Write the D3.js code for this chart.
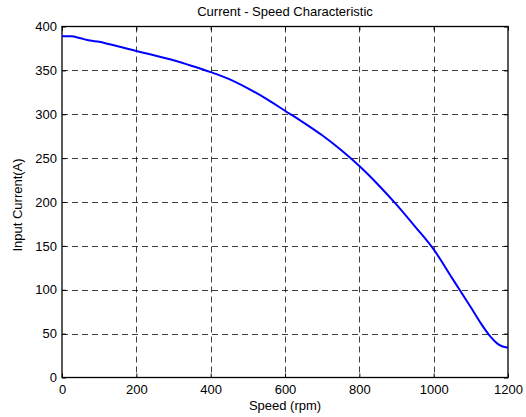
<!DOCTYPE html>
<html>
<head>
<meta charset="utf-8">
<script src="https://cdn.jsdelivr.net/npm/d3@7"></script>
<style>
  html, body { margin: 0; padding: 0; background: #fff; }
  svg { display: block; }
  text { font-family: "Liberation Sans", Arial, sans-serif; fill: #000; }
</style>
</head>
<body>
<svg id="chart" width="526" height="417"></svg>
<script>
// Motor speed (rpm) and measured input current (A)
const speed = [0, 25, 50, 75, 100, 125, 150, 200, 250, 300, 350, 400, 450, 500, 550,
               600, 650, 700, 750, 800, 850, 900, 950, 1000, 1050, 1100, 1125, 1150, 1175, 1200];
const current = [389, 389, 386.5, 384, 382.5, 380, 377.5, 372, 367, 361.5, 355, 348, 340, 329.5, 317.5,
                 304, 290.5, 276, 259.5, 241, 220, 197, 172, 146, 113, 80, 63, 48, 37.5, 34];

const xTicks = [0, 200, 400, 600, 800, 1000, 1200];
const yTicks = [0, 50, 100, 150, 200, 250, 300, 350, 400];

const titleText = "Current - Speed Characteristic";
const xLabel = "Speed (rpm)";
const yLabel = "Input Current(A)";

const svg = d3.select("#chart");
const m = { left: 62, right: 18, top: 26.5, bottom: 39.5 };
const W = 526, H = 417;
const x = d3.scaleLinear().domain([0, 1200]).range([m.left, W - m.right]);
const y = d3.scaleLinear().domain([0, 400]).range([H - m.bottom, m.top]);

const x0 = x(0), x1 = x(1200), y0 = y(0), y1 = y(400);
const fs = 13;

// dashed grid
const grid = svg.append("g");
grid.selectAll("line.vx").data(xTicks.slice(1, -1)).join("line")
  .attr("x1", d => Math.round(x(d)) + 0.5).attr("x2", d => Math.round(x(d)) + 0.5)
  .attr("y1", y1).attr("y2", y0)
  .attr("stroke", "#000").attr("stroke-width", 1).attr("stroke-dasharray", "6,4").attr("opacity", 0.75);
grid.selectAll("line.hy").data(yTicks.slice(1, -1)).join("line")
  .attr("y1", d => Math.round(y(d)) + 0.5).attr("y2", d => Math.round(y(d)) + 0.5)
  .attr("x1", x0).attr("x2", x1)
  .attr("stroke", "#000").attr("stroke-width", 1).attr("stroke-dasharray", "6,4").attr("opacity", 0.75);

// axes with inward ticks
const fmt = d3.format("d");
const ax = svg.append("g").attr("transform", `translate(0,${y0})`)
  .call(d3.axisBottom(x).tickValues(xTicks).tickFormat(fmt).tickSizeInner(-4).tickSizeOuter(0).tickPadding(7));
const ay = svg.append("g").attr("transform", `translate(${x0},0)`)
  .call(d3.axisLeft(y).tickValues(yTicks).tickFormat(fmt).tickSizeInner(-4).tickSizeOuter(0).tickPadding(5));
const axTop = svg.append("g").attr("transform", `translate(0,${y1})`)
  .call(d3.axisTop(x).tickValues(xTicks).tickSizeInner(-4).tickSizeOuter(0).tickFormat(""));
const ayRight = svg.append("g").attr("transform", `translate(${x1},0)`)
  .call(d3.axisRight(y).tickValues(yTicks).tickSizeInner(-4).tickSizeOuter(0).tickFormat(""));
[ax, ay, axTop, ayRight].forEach(g => {
  g.select(".domain").remove();
  g.selectAll("line").attr("stroke", "#000");
  g.selectAll("text").attr("font-size", fs).attr("font-family", "Liberation Sans, Arial, sans-serif");
});

// frame
svg.append("rect").attr("x", x0).attr("y", y1).attr("width", x1 - x0).attr("height", y0 - y1)
  .attr("fill", "none").attr("stroke", "#000").attr("stroke-width", 1.3);

// curve
const pts = speed.map((s, i) => [s, current[i]]);
svg.append("path").datum(pts)
  .attr("fill", "none").attr("stroke", "#0000ff").attr("stroke-width", 2)
  .attr("d", d3.line().x(d => x(d[0])).y(d => y(d[1])).curve(d3.curveMonotoneX));

// labels
svg.append("text").attr("x", (x0 + x1) / 2).attr("y", 16).attr("text-anchor", "middle")
  .attr("font-size", fs).text(titleText);
svg.append("text").attr("x", (x0 + x1) / 2).attr("y", 410).attr("text-anchor", "middle")
  .attr("font-size", fs).text(xLabel);
svg.append("text").attr("transform", `translate(22,${(y0 + y1) / 2 + 3}) rotate(-90)`)
  .attr("text-anchor", "middle").attr("font-size", fs).text(yLabel);
</script>
</body>
</html>
